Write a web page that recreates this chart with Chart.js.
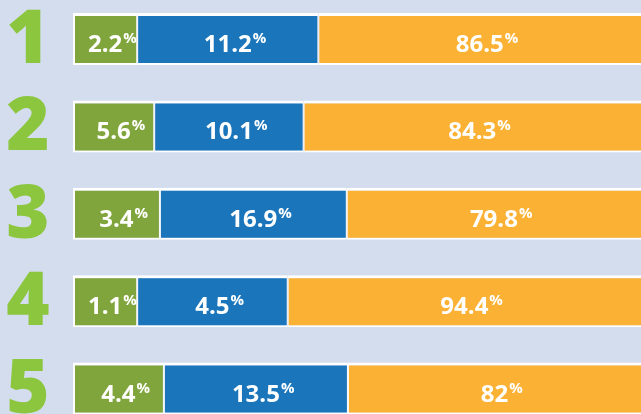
<!DOCTYPE html>
<html lang="en">
<head>
  <meta charset="UTF-8" />
  <title>Shares by row</title>
  <script src="https://cdn.jsdelivr.net/npm/chart.js"></script>
  <style>
    html, body {
      margin: 0;
      padding: 0;
      background-color: #d4ddee;
      overflow: hidden;
    }
    #wrap {
      width: 641px;
      height: 414px;
    }
  </style>
</head>
<body>
  <div id="wrap"><canvas id="shareChart" width="641" height="414"></canvas></div>

  <script>
    const rows = ['1', '2', '3', '4', '5'];

    // percentages printed on the segments
    const greenShare = [2.2, 5.6, 3.4, 1.1, 4.4];
    const blueShare = [11.2, 10.1, 16.9, 4.5, 13.5];
    const orangeShare = [86.5, 84.3, 79.8, 94.4, 82];

    // drawn segment lengths (visible width = 100)
    const greenLength = [11.3, 14.3, 15.3, 11.3, 16.0];
    const blueLength = [31.9, 26.3, 32.9, 26.5, 32.4];
    const orangeLength = [66.8, 69.4, 61.8, 72.2, 61.6];

    const segLabels = {
      id: 'segLabels',
      afterDatasetsDraw(chart) {
        const ctx = chart.ctx;
        const area = chart.chartArea;
        ctx.save();
        ctx.fillStyle = '#ffffff';
        ctx.textAlign = 'left';
        ctx.textBaseline = 'alphabetic';
        chart.data.datasets.forEach((ds, di) => {
          const meta = chart.getDatasetMeta(di);
          meta.data.forEach((bar, i) => {
            const right = Math.min(bar.x, area.right);
            const cx = (bar.base + right) / 2;
            const text = String(ds.shares[i]);
            ctx.font = 'bold 24px "Open Sans"';
            const w = ctx.measureText(text).width;
            ctx.fillText(text, cx - w / 2, bar.y + 13);
            ctx.font = 'bold 15px "Open Sans"';
            ctx.fillText('%', cx + w / 2 + 1, bar.y + 4);
          });
        });

        // big row numbers on the left
        const yScale = chart.scales.y;
        ctx.fillStyle = '#8cc63f';
        ctx.textAlign = 'center';
        ctx.font = '800 74px "Open Sans"';
        rows.forEach((r, i) => {
          ctx.fillText(r, 28, yScale.getPixelForValue(i) + 24);
        });
        ctx.restore();
      }
    };

    const common = {
      borderColor: '#ffffff',
      borderSkipped: false,
      barThickness: 52,
      inflateAmount: 0,
      clip: false
    };

    const chart = new Chart(document.getElementById('shareChart').getContext('2d'), {
      type: 'bar',
      data: {
        labels: rows,
        datasets: [
          {
            ...common,
            label: 'Green',
            data: greenLength,
            shares: greenShare,
            backgroundColor: '#80a53c',
            borderWidth: { top: 3, bottom: 2, left: 2, right: 1 }
          },
          {
            ...common,
            label: 'Blue',
            data: blueLength,
            shares: blueShare,
            backgroundColor: '#1a75bb',
            borderWidth: { top: 3, bottom: 2, left: 1, right: 1 }
          },
          {
            ...common,
            label: 'Orange',
            data: orangeLength,
            shares: orangeShare,
            backgroundColor: '#fbb234',
            borderWidth: { top: 3, bottom: 2, left: 1, right: 0 }
          }
        ]
      },
      options: {
        indexAxis: 'y',
        responsive: false,
        animation: false,
        devicePixelRatio: 1,
        layout: {
          padding: { left: 73, right: 0, top: 39, bottom: 25.5 }
        },
        plugins: {
          legend: { display: false },
          tooltip: { enabled: false }
        },
        scales: {
          x: {
            stacked: true,
            display: false,
            min: 0,
            max: 100
          },
          y: {
            stacked: true,
            display: false,
            offset: false,
            grid: { display: false }
          }
        }
      },
      plugins: [segLabels]
    });
  </script>
</body>
</html>
